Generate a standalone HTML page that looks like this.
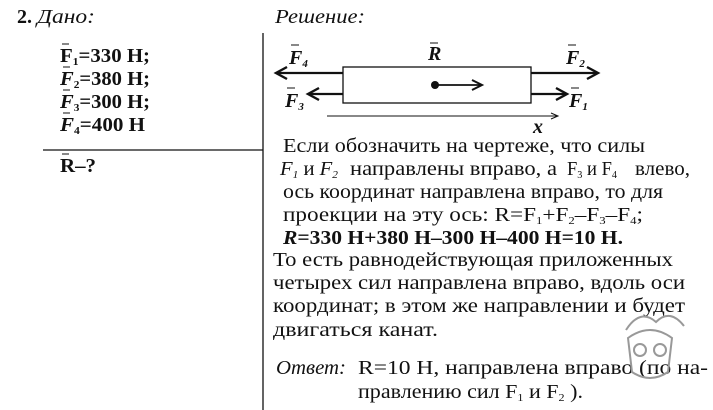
<!DOCTYPE html>
<html><head><meta charset="utf-8"><style>
body{margin:0;background:#fff}
svg{display:block}
text{font-family:"Liberation Serif","DejaVu Serif",serif;font-size:20px;fill:#111}
.b{font-weight:bold}
.i{font-style:italic}
.s{font-size:11px}
</style></head><body>
<svg width="713" height="410" viewBox="0 0 713 410" xmlns="http://www.w3.org/2000/svg">
<g stroke="#111" fill="none">
<line x1="263" y1="33" x2="263" y2="410" stroke-width="1.3"/>
<line x1="43" y1="150" x2="263" y2="150" stroke-width="1.3"/>
<rect x="343" y="67" width="188" height="36" stroke-width="1.3"/>
<line x1="343" y1="73" x2="277" y2="73" stroke-width="2.2"/>
<polyline points="287,67 276,73 287,79" stroke-width="2.4"/>
<line x1="531" y1="73" x2="597" y2="73" stroke-width="2.2"/>
<polyline points="587,67 598,73 587,79" stroke-width="2.4"/>
<line x1="343" y1="94" x2="309" y2="94" stroke-width="2.2"/>
<polyline points="319,88 308,94 319,100" stroke-width="2.4"/>
<line x1="531" y1="94" x2="566" y2="94" stroke-width="2.2"/>
<polyline points="556,88 567,94 556,100" stroke-width="2.4"/>
<line x1="435" y1="85" x2="481" y2="85" stroke-width="1.8"/>
<polyline points="472,80 482,85 472,90" stroke-width="2"/>
<line x1="327" y1="116" x2="557" y2="116" stroke-width="1"/>
<polyline points="551,113 558,116 551,119" stroke-width="1"/>
</g>
<circle cx="435" cy="85" r="4" fill="#111"/>
<text x="289" y="64" class="b i">F<tspan class="s" dy="3">4</tspan></text>
<text x="428" y="60" class="b i">R</text>
<text x="566" y="64" class="b i">F<tspan class="s" dy="3">2</tspan></text>
<text x="285" y="107" class="b i">F<tspan class="s" dy="3">3</tspan></text>
<text x="569" y="107" class="b i">F<tspan class="s" dy="3">1</tspan></text>
<text x="533" y="133" class="b i">x</text>
<g stroke="#111" stroke-width="1">
<line x1="291" y1="45" x2="299" y2="45"/><line x1="430" y1="43" x2="438" y2="43"/><line x1="568" y1="45" x2="576" y2="45"/><line x1="287" y1="88" x2="295" y2="88"/><line x1="571" y1="88" x2="579" y2="88"/>
</g>
<text x="17" y="23" class="b">2.</text><text x="37" y="23" class="i" textLength="58" lengthAdjust="spacingAndGlyphs">Дано:</text>
<text x="275" y="23" class="i" textLength="90" lengthAdjust="spacingAndGlyphs">Решение:</text>
<text x="60" y="62" class="b" textLength="90" lengthAdjust="spacingAndGlyphs">F<tspan class="s" dy="3">1</tspan><tspan dy="-3">=330 Н;</tspan></text>
<text x="60" y="85" class="b" textLength="90" lengthAdjust="spacingAndGlyphs"><tspan class="i">F</tspan><tspan class="s" dy="3">2</tspan><tspan dy="-3">=380 Н;</tspan></text>
<text x="60" y="108" class="b" textLength="90" lengthAdjust="spacingAndGlyphs"><tspan class="i">F</tspan><tspan class="s" dy="3">3</tspan><tspan dy="-3">=300 Н;</tspan></text>
<text x="60" y="131" class="b" textLength="85" lengthAdjust="spacingAndGlyphs"><tspan class="i">F</tspan><tspan class="s" dy="3">4</tspan><tspan dy="-3">=400 Н</tspan></text>
<text x="60" y="172" class="b" textLength="36" lengthAdjust="spacingAndGlyphs">R–?</text>
<g stroke="#111" stroke-width="1"><line x1="62" y1="44" x2="69" y2="44"/><line x1="63" y1="67" x2="70" y2="67"/><line x1="63" y1="90" x2="70" y2="90"/><line x1="63" y1="113" x2="70" y2="113"/><line x1="62" y1="154" x2="69" y2="154"/></g>
<text x="283" y="152" textLength="362" lengthAdjust="spacingAndGlyphs">Если обозначить на чертеже, что силы</text>
<text x="280" y="175" class="i" textLength="58" lengthAdjust="spacingAndGlyphs">F<tspan class="s" dy="3">1</tspan><tspan dy="-3" font-style="normal"> и </tspan><tspan>F</tspan><tspan class="s" dy="3">2</tspan></text>
<text x="350" y="175" textLength="207" lengthAdjust="spacingAndGlyphs">направлены вправо, а</text>
<text x="567" y="175" textLength="50" lengthAdjust="spacingAndGlyphs">F<tspan class="s" dy="3">3</tspan><tspan dy="-3"> и F</tspan><tspan class="s" dy="3">4</tspan></text>
<text x="635" y="175" textLength="55" lengthAdjust="spacingAndGlyphs">влево,</text>
<text x="283" y="198" textLength="380" lengthAdjust="spacingAndGlyphs">ось координат направлена вправо, то для</text>
<text x="283" y="221" textLength="360" lengthAdjust="spacingAndGlyphs">проекции на эту ось: R=F<tspan class="s" dy="3">1</tspan><tspan dy="-3">+F</tspan><tspan class="s" dy="3">2</tspan><tspan dy="-3">–F</tspan><tspan class="s" dy="3">3</tspan><tspan dy="-3">–F</tspan><tspan class="s" dy="3">4</tspan><tspan dy="-3">;</tspan></text>
<text x="283" y="244" class="b" textLength="340" lengthAdjust="spacingAndGlyphs"><tspan class="i">R</tspan>=330 Н+380 Н–300 Н–400 Н=10 Н.</text>
<text x="273" y="266" textLength="400" lengthAdjust="spacingAndGlyphs">То есть равнодействующая приложенных</text>
<text x="273" y="289" textLength="412" lengthAdjust="spacingAndGlyphs">четырех сил направлена вправо, вдоль оси</text>
<text x="273" y="312" textLength="412" lengthAdjust="spacingAndGlyphs">координат; в этом же направлении и будет</text>
<text x="273" y="336" textLength="165" lengthAdjust="spacingAndGlyphs">двигаться канат.</text>
<text x="276" y="374" class="i" textLength="70" lengthAdjust="spacingAndGlyphs">Ответ:</text>
<text x="358" y="374" textLength="350" lengthAdjust="spacingAndGlyphs">R=10 Н, направлена вправо (по на-</text>
<text x="358" y="398" textLength="225" lengthAdjust="spacingAndGlyphs">правлению сил F<tspan class="s" dy="3">1</tspan><tspan dy="-3"> и F</tspan><tspan class="s" dy="3">2</tspan><tspan dy="-3"> ).</tspan></text>
<g fill="none" stroke="#999" stroke-width="2">
<circle cx="640" cy="350" r="6"/><circle cx="660" cy="350" r="6"/>
<path d="M628 338 Q650 322 672 338 L668 372 Q650 384 632 372 Z"/>
<path d="M626 330 Q640 308 656 322 Q670 308 684 326"/>
</g>
</svg>
</body></html>
